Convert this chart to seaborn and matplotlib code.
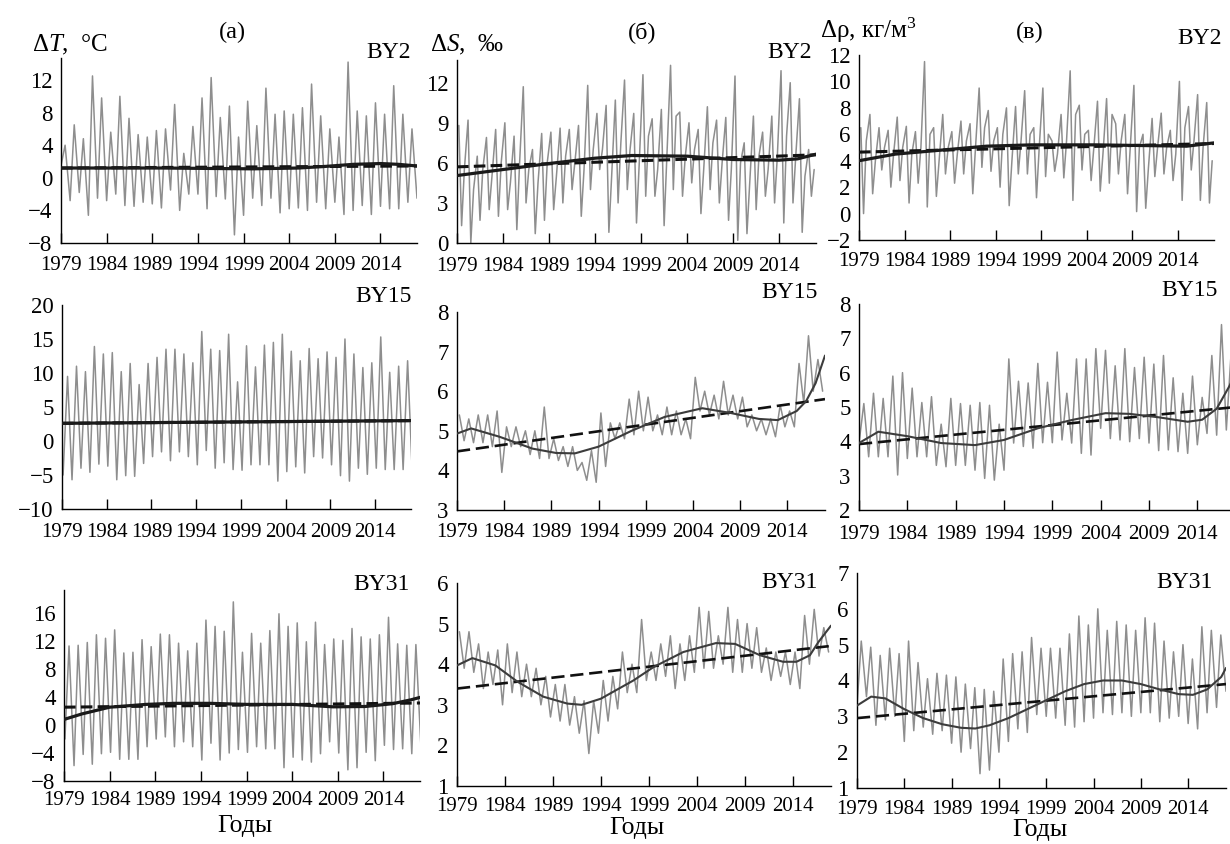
import numpy as np
import pandas as pd
import matplotlib
matplotlib.use("Agg")
import matplotlib.pyplot as plt
import seaborn as sns

# ---------------- data ----------------
years = np.arange(1979, 2018)        # one value per year (39)
years_lo = np.arange(1979, 2019)     # troughs incl. start of 2018 (40)

# (a) ΔT, BY2 : annual maxima / minima
t2_hi = [4, 6.5, 4.8, 12.5, 9.8, 5.6, 10, 7.3, 5.3, 5, 5.8, 6, 9, 3, 6.3, 9.8, 12.3, 7.4, 8.8, 5,
         9.4, 6.4, 11, 7.8, 8.2, 7.8, 8.6, 11.5, 7.6, 6, 5, 14.2, 8.2, 7.6, 9.2, 7.8, 11.3, 7.8, 6]
t2_lo = [1.5, -2.8, -1.8, -4.6, -2.5, -2.8, -2, -3.4, -3.5, -3, -3.2, -3.7, -1.5, -4, -2, -2, -3.8,
         -2.3, -2.6, -7, -4.6, -2.5, -3.4, -2.5, -4.3, -3.8, -3.7, -4, -3, -3.8, -3, -4.5, -4, -3.4,
         -4.5, -3.5, -3.8, -3.8, -3, -2.5]
t2_fit_t = [1979, 1985, 1990, 1995, 2000, 2005, 2008, 2011, 2014, 2016, 2018]
t2_fit_v = [1.2, 1.2, 1.2, 1.15, 1.1, 1.2, 1.4, 1.65, 1.75, 1.65, 1.45]
t2_lin = [1.2, 1.45]

# (б) ΔS, BY2
s2_hi = [8.8, 9.2, 6.5, 7.9, 8.5, 9.0, 8.0, 11.7, 7.0, 8.2, 8.3, 8.6, 8.5, 8.8, 11.8, 9.7, 10.3, 10.7,
         12.2, 9.7, 12.6, 9.3, 10.0, 13.3, 9.8, 9.0, 8.5, 10.2, 9.2, 9.4, 12.5, 7.5, 9.5, 8.3, 9.5,
         12.9, 12.0, 10.8, 7.0]
s2_lo = [1.3, 0.0, 1.7, 2.5, 2.0, 2.5, 1.0, 3.0, 0.7, 1.7, 2.5, 3.0, 4.0, 2.0, 4.0, 5.5, 0.8, 3.0, 4.0,
         1.5, 3.5, 3.5, 1.3, 4.0, 3.5, 4.5, 2.2, 4.0, 3.0, 1.7, 0.2, 0.7, 2.5, 3.5, 3.0, 1.5, 3.0, 0.8, 3.5]
s2_mid = [5.5, 4.0, 5.5, 5.0, 6.0, 4.5, 6.0, 5.5, 4.5, 6.0, 5.0, 6.5, 6.0, 5.5, 7.0, 7.0, 5.0, 7.5, 7.0,
          6.0, 8.0, 5.5, 6.5, 9.5, 6.5, 7.0, 5.5, 7.5, 6.0, 5.5, 6.0, 4.5, 6.5, 5.5, 6.5, 8.0, 6.5, 5.0, 5.5]
s2_fit_t = [1979, 1984, 1989, 1994, 1998, 2004, 2009, 2014, 2016, 2018]
s2_fit_v = [5.05, 5.5, 5.95, 6.35, 6.55, 6.5, 6.25, 6.2, 6.3, 6.65]
s2_lin = [5.7, 6.6]

# (в) Δρ, BY2
r2_hi = [6.5, 7.5, 6.5, 6.3, 7.3, 6.6, 6.2, 11.5, 6.5, 7.5, 6.2, 7.0, 6.8, 9.5, 7.8, 6.5, 8.0, 8.1, 9.3,
         6.5, 9.5, 5.5, 7.5, 10.8, 8.2, 6.3, 8.5, 8.7, 6.8, 7.5, 9.7, 6.0, 7.2, 7.6, 6.3, 10.0, 8.1, 9.0, 8.4]
r2_lo = [0.0, 1.5, 3.3, 2.0, 2.5, 0.8, 2.3, 0.5, 1.3, 3.0, 2.3, 3.0, 1.5, 3.5, 3.2, 2.0, 0.6, 3.0, 3.0,
         1.2, 2.8, 3.2, 2.7, 1.0, 3.3, 2.5, 1.7, 2.3, 3.0, 1.5, 0.15, 0.4, 2.8, 3.0, 2.5, 1.0, 3.3, 1.0, 0.8]
r2_mid = [5.5, 4.0, 5.0, 4.5, 5.0, 4.5, 5.0, 6.0, 4.0, 5.0, 4.5, 5.5, 5.0, 6.5, 5.5, 6.0, 4.0, 5.5, 6.0,
          5.0, 6.0, 4.5, 5.5, 7.5, 6.0, 5.0, 4.5, 7.5, 5.5, 5.0, 5.0, 3.5, 5.0, 5.0, 4.5, 6.5, 5.5, 5.0, 4.0]
r2_fit_t = [1979, 1983, 1988, 1993, 1998, 2005, 2010, 2015, 2018]
r2_fit_v = [4.0, 4.5, 4.8, 5.1, 5.2, 5.2, 5.15, 5.1, 5.35]
r2_lin = [4.65, 5.3]

# (а) ΔT, BY15
t15_hi = [9.5, 11.0, 10.2, 13.9, 12.8, 13.0, 10.2, 11.4, 8.3, 11.4, 12.3, 13.5, 13.5, 12.8, 11.5, 16.1,
          13.5, 13.3, 15.7, 8.7, 14.0, 10.9, 14.1, 14.5, 15.7, 13.2, 11.8, 13.6, 12.1, 13.1, 12.3, 15.0,
          12.8, 10.8, 11.5, 15.3, 10.1, 11.0, 11.8]
t15_lo = [-5.0, -5.7, -4.0, -4.6, -3.4, -3.7, -5.7, -5.1, -5.2, -3.3, -2.3, -1.6, -2.9, -1.6, -2.3, -3.5,
          -1.4, -4.0, -3.2, -4.2, -4.3, -3.5, -3.5, -3.5, -5.9, -4.5, -3.8, -4.7, -2.3, -2.5, -3.5, -5.1,
          -5.9, -4.0, -4.9, -4.0, -4.2, -4.2, -4.2, -4.0]
t15_fit_t = [1979, 1998, 2018]
t15_fit_v = [2.6, 2.8, 3.0]
t15_lin = [2.6, 3.0]

# (б) ΔS, BY15
s15_hi = [5.4, 5.3, 5.4, 5.4, 5.5, 5.1, 5.1, 5.0, 5.0, 5.6, 4.8, 4.6, 4.6, 4.2, 4.5, 5.45, 5.2, 5.2, 5.8,
          6.0, 5.85, 5.4, 5.6, 5.5, 5.3, 6.35, 6.0, 5.9, 6.25, 5.9, 5.85, 5.4, 5.3, 5.3, 5.65, 5.5, 6.7,
          7.4, 6.8]
s15_lo = [4.75, 4.7, 4.7, 4.6, 3.95, 4.6, 4.6, 4.4, 4.3, 4.3, 4.25, 4.1, 4.0, 3.75, 3.7, 4.1, 4.8, 4.8,
          4.9, 5.0, 5.0, 4.9, 4.9, 4.9, 4.8, 5.5, 5.4, 5.3, 5.4, 5.3, 5.1, 5.0, 4.9, 4.85, 5.1, 5.1, 5.7,
          6.0, 6.0]
s15_fit_t = [1979, 1980.5, 1983.5, 1987, 1989.5, 1991.5, 1994, 1997.5, 2001, 2005, 2008, 2011, 2013,
             2015, 2016, 2017, 2018]
s15_fit_v = [4.93, 5.06, 4.85, 4.55, 4.44, 4.43, 4.6, 5.0, 5.35, 5.57, 5.45, 5.3, 5.27, 5.5, 5.75, 6.2, 6.9]
s15_lin = [4.48, 5.8]

# (в) Δρ, BY15
r15_hi = [5.1, 5.4, 5.25, 5.9, 6.0, 5.55, 5.13, 5.3, 4.5, 5.25, 5.1, 5.05, 5.13, 5.05, 4.5, 6.4, 5.75,
          5.7, 6.27, 5.72, 6.6, 5.4, 6.4, 6.4, 6.7, 6.65, 6.2, 6.7, 6.15, 6.45, 6.25, 6.5, 5.85, 5.4, 5.9,
          5.28, 6.5, 7.4, 6.6]
r15_lo = [3.95, 3.55, 3.55, 3.55, 3.02, 3.5, 3.55, 3.55, 3.3, 3.26, 3.3, 3.3, 3.16, 2.92, 2.87, 3.16,
          3.95, 3.85, 3.8, 3.96, 3.96, 4.04, 3.95, 3.65, 3.6, 4.38, 4.08, 4.04, 3.99, 4.08, 3.95, 3.73,
          3.75, 3.7, 3.65, 3.9, 4.23, 4.18, 4.33, 4.4]
r15_fit_t = [1979, 1981, 1984, 1987.5, 1991, 1994, 1997.5, 2001, 2004.5, 2007, 2010, 2013, 2014.5,
             2016, 2017.3, 2018]
r15_fit_v = [3.95, 4.28, 4.15, 3.95, 3.89, 4.04, 4.38, 4.62, 4.82, 4.8, 4.7, 4.57, 4.63, 4.95, 5.6, 6.0]
r15_lin = [3.92, 5.0]

# (а) ΔT, BY31
t31_hi = [11.3, 11.4, 11.8, 12.9, 12.4, 13.6, 10.3, 10.4, 12.2, 11.2, 13.0, 12.9, 11.7, 10.6, 11.7, 15.0,
          14.1, 13.4, 17.6, 10.4, 13.1, 11.7, 13.5, 15.9, 14.1, 14.6, 11.9, 14.7, 11.5, 12.3, 12.1, 13.8,
          12.6, 12.3, 12.9, 15.4, 11.6, 11.4, 11.5]
t31_lo = [-2.0, -5.8, -4.2, -5.6, -4.1, -3.9, -4.9, -4.9, -4.9, -3.1, -2.0, -1.7, -3.1, -2.4, -3.1, -5.0,
          -2.6, -5.0, -4.0, -3.5, -3.9, -3.1, -3.4, -3.4, -6.1, -4.6, -5.0, -5.3, -4.1, -2.4, -4.0, -6.4,
          -6.1, -3.9, -5.1, -2.9, -3.5, -3.4, -4.1, -3.0]
t31_fit_t = [1979, 1981, 1984, 1988, 1991, 1995, 1999, 2004, 2008.5, 2012, 2015, 2017, 2018]
t31_fit_v = [0.8, 1.6, 2.55, 2.95, 3.1, 3.1, 2.95, 2.95, 2.6, 2.65, 3.05, 3.6, 3.95]
t31_lin = [2.55, 3.15]

# (б) ΔS, BY31
s31_hi = [4.8, 4.8, 4.5, 4.3, 4.35, 4.5, 4.3, 4.0, 3.9, 3.7, 3.5, 3.5, 3.2, 3.1, 3.1, 3.6, 3.7, 4.3, 4.0,
          5.1, 4.3, 4.5, 4.7, 4.5, 4.7, 5.4, 5.3, 4.7, 5.4, 5.1, 5.0, 4.9, 4.4, 4.3, 4.3, 4.3, 5.2, 5.35, 4.9]
s31_lo = [3.9, 3.8, 3.4, 3.5, 3.0, 3.3, 3.2, 3.2, 3.0, 2.7, 2.6, 2.5, 2.3, 1.8, 2.3, 2.6, 2.9, 3.3, 3.3,
          3.6, 3.6, 3.7, 3.4, 3.6, 3.8, 3.9, 3.9, 4.0, 3.8, 3.8, 3.9, 3.8, 3.6, 3.7, 3.5, 3.4, 4.0, 4.2, 4.3]
s31_fit_t = [1979, 1980.6, 1983, 1985.3, 1988, 1990.5, 1992, 1994, 1997.4, 1999.5, 2002.6, 2006, 2008,
             2010.6, 2013, 2014.4, 2015.8, 2016.7, 2018]
s31_fit_v = [3.97, 4.15, 3.97, 3.57, 3.2, 3.03, 3.0, 3.15, 3.6, 3.93, 4.3, 4.52, 4.5, 4.22, 4.06, 4.06,
             4.22, 4.55, 4.95]
s31_lin = [3.4, 4.45]

# (в) Δρ, BY31
r31_hi = [5.1, 4.93, 4.7, 4.9, 4.75, 5.1, 4.5, 4.05, 4.2, 4.15, 4.1, 3.9, 3.8, 3.75, 3.7, 4.6, 4.75, 4.8,
          5.2, 4.9, 4.9, 4.9, 5.3, 5.8, 5.55, 6.0, 5.4, 5.65, 5.55, 5.4, 5.75, 5.6, 5.1, 4.8, 5.0, 4.6, 5.5,
          5.4, 5.27]
r31_lo = [3.3, 3.55, 2.75, 2.9, 3.0, 2.3, 2.6, 2.7, 2.5, 2.6, 2.25, 2.0, 2.1, 1.4, 1.5, 2.0, 2.3, 2.65,
          2.55, 3.05, 3.0, 2.95, 2.75, 2.7, 2.85, 2.95, 3.1, 3.05, 3.1, 3.0, 3.1, 3.1, 2.85, 2.95, 3.0, 2.8,
          2.65, 3.1, 3.25, 3.7]
r31_fit_t = [1979, 1980.5, 1982, 1984, 1986, 1988, 1990, 1991.5, 1993, 1995, 1997, 1999, 2001, 2003, 2005,
             2007, 2009, 2011, 2013, 2014.5, 2016, 2017.5, 2018]
r31_fit_v = [3.3, 3.55, 3.5, 3.2, 2.95, 2.78, 2.68, 2.66, 2.75, 2.95, 3.2, 3.45, 3.7, 3.9, 4.0, 4.0, 3.9,
             3.75, 3.62, 3.6, 3.75, 4.1, 4.35]
r31_lin = [2.95, 3.9]

year_ticks = np.arange(1979, 2015, 5)
lin_t = [1979, 2018]

# ---------------- style ----------------
sns.set_theme(style="white")
plt.rcParams['font.family'] = ['Liberation Serif', 'DejaVu Serif']
plt.rcParams['mathtext.fontset'] = 'custom'
plt.rcParams['mathtext.rm'] = 'Liberation Serif'
plt.rcParams['mathtext.it'] = 'Liberation Serif:italic'
plt.rcParams['mathtext.bf'] = 'Liberation Serif:bold'
plt.rcParams['text.color'] = 'black'
plt.rcParams['xtick.color'] = 'black'
plt.rcParams['ytick.color'] = 'black'
plt.rcParams['axes.edgecolor'] = 'black'

GRAY = '#8e8e8e'
W, H = 1230, 844
fig = plt.figure(figsize=(W / 100, H / 100), dpi=100)
fig.patch.set_facecolor('white')


def add_box(l, t, r, b):
    return fig.add_axes([l / W, 1 - b / H, (r - l) / W, (b - t) / H])


def seasonal(hi, lo, lo_off, hi_off):
    t = np.concatenate([years_lo + lo_off, years + hi_off])
    v = np.concatenate([np.asarray(lo, float), np.asarray(hi, float)])
    o = np.argsort(t)
    return t[o], v[o]


def noisy(hi, lo, mid=None):
    if mid is None:
        t = np.concatenate([years + 0.25, years + 0.75])
        v = np.concatenate([hi, lo]).astype(float)
    else:
        t = np.concatenate([years + 0.2, years + 0.5, years + 0.8])
        v = np.concatenate([hi, lo, mid]).astype(float)
    o = np.argsort(t)
    return t[o], v[o]


def panel(box, t, v, fit_t, fit_v, lin_v, ylim, yticks, cap, heavy, xpad):
    ax = add_box(*box)
    sns.lineplot(x=t, y=v, ax=ax, color=GRAY, linewidth=1.1, estimator=None, sort=False, zorder=2)
    if heavy:
        sns.lineplot(x=lin_t, y=lin_v, ax=ax, color='#111111', linewidth=2.2, estimator=None, zorder=3)
        ax.lines[-1].set_dashes((3.8, 1.7))
        sns.lineplot(x=fit_t, y=fit_v, ax=ax, color='#1a1a1a', linewidth=2.3, estimator=None, zorder=4)
    else:
        sns.lineplot(x=fit_t, y=fit_v, ax=ax, color='#3c3c3c', linewidth=1.5, estimator=None, zorder=4)
        sns.lineplot(x=lin_t, y=lin_v, ax=ax, color='#111111', linewidth=1.9, estimator=None, zorder=3)
        ax.lines[-1].set_dashes((5.0, 2.2))
    ax.set_xlim(1979, 2018)
    ax.set_ylim(*ylim)
    ax.set_xticks(year_ticks)
    ax.set_xticklabels([str(y) for y in year_ticks])
    ax.set_yticks(yticks)
    ax.set_xlabel('')
    ax.set_ylabel('')
    ax.set_facecolor('none')
    for s in ['top', 'right']:
        ax.spines[s].set_visible(False)
    for s in ['left', 'bottom']:
        ax.spines[s].set_color('black')
        ax.spines[s].set_linewidth(1.0)
    ax.tick_params(axis='x', which='major', bottom=True, direction='in', length=7, width=1,
                   pad=xpad, labelsize=15)
    ax.tick_params(axis='y', which='major', left=True, length=0, pad=6, labelsize=16.5)
    if cap:
        ax.set_yticks([ylim[1]], minor=True)
        ax.tick_params(axis='y', which='minor', left=True, direction='in', length=6, width=1)
    return ax


# row 1 (BY2)
panel((61, 58, 417, 243), *seasonal(t2_hi, t2_lo, 0.0, 0.45), t2_fit_t, t2_fit_v, t2_lin,
      (-8, 14.7), np.arange(-8, 13, 4), False, True, 9.0)
panel((457, 60, 816, 243), *noisy(s2_hi, s2_lo, s2_mid), s2_fit_t, s2_fit_v, s2_lin,
      (0, 13.7), np.arange(0, 13, 3), False, True, 10.0)
panel((859, 55, 1214, 240), *noisy(r2_hi, r2_lo, r2_mid), r2_fit_t, r2_fit_v, r2_lin,
      (-2, 12), np.arange(-2, 13, 2), True, True, 9.0)

# row 2 (BY15)
panel((62, 305, 411, 509), *seasonal(t15_hi, t15_lo, 0.12, 0.62), t15_fit_t, t15_fit_v, t15_lin,
      (-10, 20), np.arange(-10, 21, 5), True, True, 10.0)
panel((457, 312, 825, 510), *noisy(s15_hi, s15_lo), s15_fit_t, s15_fit_v, s15_lin,
      (3, 8), np.arange(3, 9, 1), True, False, 9.5)
panel((859, 304, 1236, 510), *seasonal(r15_hi, r15_lo, 0.0, 0.5), r15_fit_t, r15_fit_v, r15_lin,
      (2, 8), np.arange(2, 9, 1), True, False, 10.5)

# row 3 (BY31)
panel((64, 590, 420, 781), *seasonal(t31_hi, t31_lo, 0.1, 0.55), t31_fit_t, t31_fit_v, t31_lin,
      (-8, 19.3), np.arange(-8, 17, 4), False, True, 7.5)
panel((457, 583, 831, 786), *noisy(s31_hi, s31_lo), s31_fit_t, s31_fit_v, s31_lin,
      (1, 6), np.arange(1, 7, 1), True, False, 8.0)
panel((857, 573, 1226, 788), *seasonal(r31_hi, r31_lo, 0.0, 0.45), r31_fit_t, r31_fit_v, r31_lin,
      (1, 7), np.arange(1, 8, 1), True, False, 9.0)


def ftext(x, y, s, ha='center', size=17):
    fig.text(x / W, 1 - y / H, s, ha=ha, va='center', fontsize=size)


ftext(232, 32, '(а)', size=17.5)
ftext(642, 32, '(б)', size=17.5)
ftext(1030, 32, '(в)', size=17.5)
ftext(32, 45, r'$\Delta T$,  °C', ha='left', size=18)
ftext(430, 45, r'$\Delta S$,  $\mathit{‰}$', ha='left', size=18)
ftext(820, 30, r'Δρ, кг/м$^3$', ha='left', size=18)

for (x, y, s) in [(411, 52, 'BY2'), (812, 52, 'BY2'), (1222, 38, 'BY2'),
                  (412, 297, 'BY15'), (818, 293, 'BY15'), (1218, 290, 'BY15'),
                  (410, 585, 'BY31'), (818, 583, 'BY31'), (1213, 583, 'BY31')]:
    ftext(x, y, s, ha='right', size=17)

ftext(245, 826, 'Годы', size=18.5)
ftext(637, 828, 'Годы', size=18.5)
ftext(1040, 830, 'Годы', size=18.5)

fig.savefig('out.png', dpi=100, facecolor='white')
